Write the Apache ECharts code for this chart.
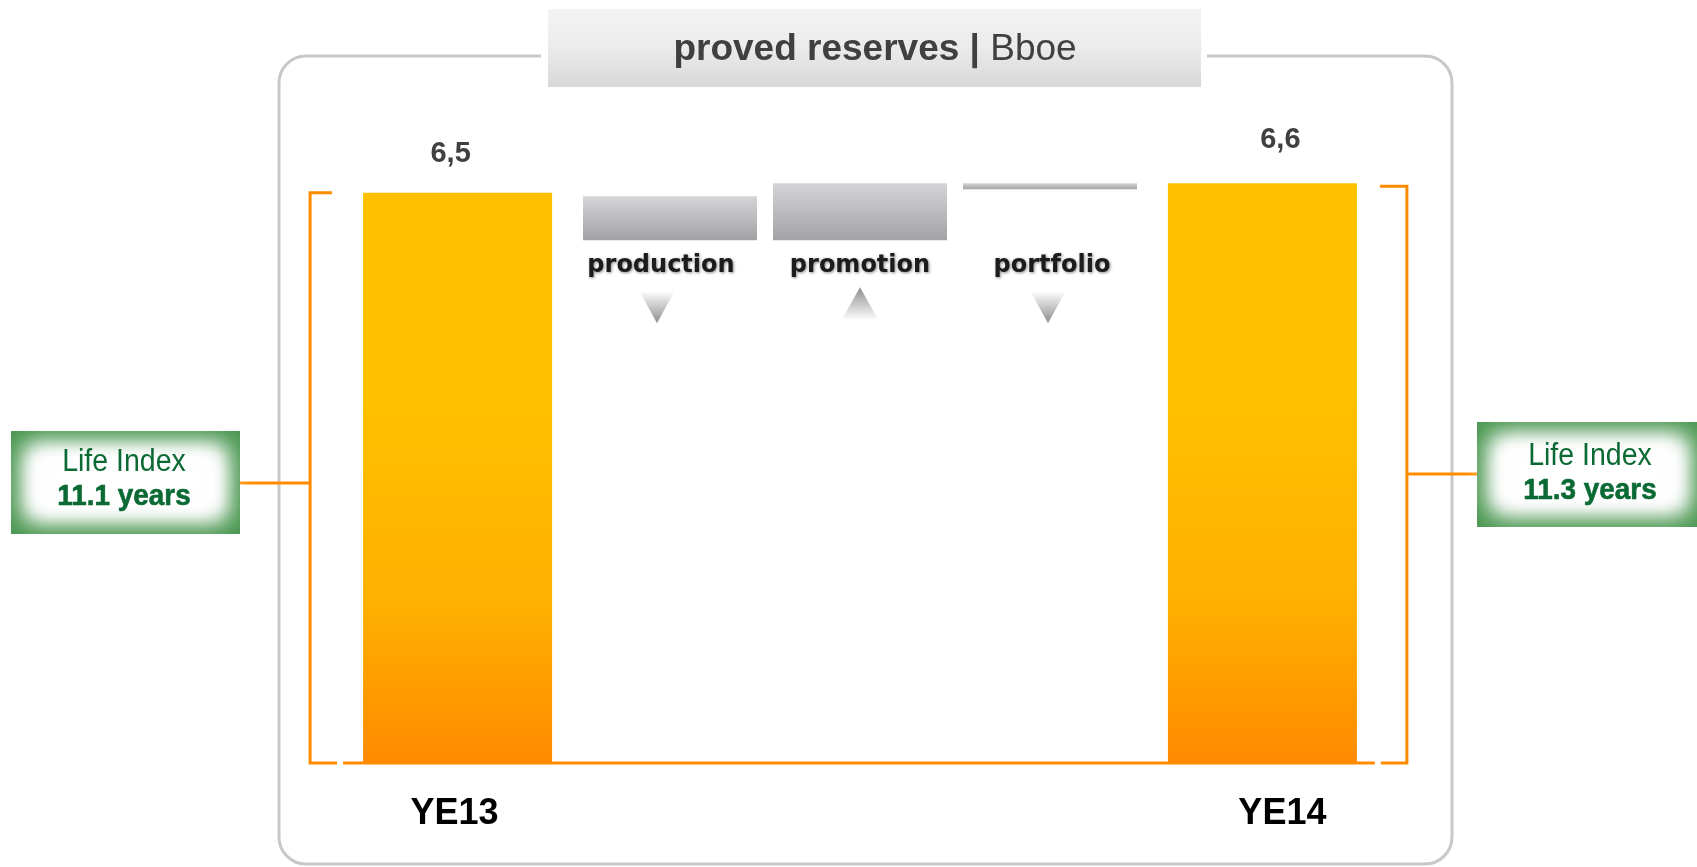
<!DOCTYPE html>
<html><head><meta charset="utf-8">
<script src="https://cdn.jsdelivr.net/npm/echarts@6/dist/echarts.min.js"></script>
<style>html,body{margin:0;padding:0;background:#fff}#c{width:1697px;height:867px}</style>
</head><body><div id="c"></div>
<script>
// ---- data ----
const categories = ['YE13', 'production', 'promotion', 'portfolio', 'YE14'];
const totalValues = [6.5, null, null, null, 6.61];
const changeCategories = ['production', 'promotion', 'portfolio'];
const changeStarts = [6.46, 5.96, 6.61];
const changeDeltas = [-0.50, 0.65, -0.07];
const lifeIndexTitle = ['Life Index', 'Life Index'];
const lifeIndexYears = ['11.1 years', '11.3 years'];
const titleBold = 'proved reserves | ';
const titleUnit = 'Bboe';

// ---- chart ----
const chart = echarts.init(document.getElementById('c'), null, { renderer: 'canvas' });
const FONT = '"Liberation Sans", Arial, sans-serif';
const floorVal = Math.min(...changeStarts.map((s, i) => Math.min(s, s + changeDeltas[i])));
const orangeGrad = () => new echarts.graphic.LinearGradient(0, 0, 0, 1, [
  { offset: 0, color: '#FFC000' }, { offset: 0.38, color: '#FFC000' },
  { offset: 0.72, color: '#FFB000' }, { offset: 1, color: '#FF8A00' }]);
const grayGrad = () => new echarts.graphic.LinearGradient(0, 0, 0, 1, [
  { offset: 0, color: '#D4D5D7' }, { offset: 1, color: '#A2A2A4' }]);
const GRAY_W = 174, GRAY_GAP = 16;
const midIndex = (categories.length - 1) / 2;

const option = {
  animation: false,
  grid: { left: 357, right: 334, top: 149, bottom: 104, containLabel: false },
  xAxis: {
    type: 'category',
    data: categories.map((c, i) => i === 4 ? { value: c, textStyle: { padding: [0, 0, 0, 40] } }
                                   : i === 0 ? { value: c, textStyle: { padding: [0, 6, 0, 0] } } : c),
    axisLine: { show: false }, axisTick: { show: false },
    axisLabel: {
      interval: 0, margin: 33, fontFamily: FONT, fontWeight: 'bold', fontSize: 36, color: '#000',
      formatter: (v, i) => totalValues[i] != null ? v : ''
    }
  },
  yAxis: { type: 'value', min: 0, max: 7, show: false, splitLine: { show: false } },
  series: [
    {
      type: 'bar', barWidth: 189, barGap: '-100%',
      itemStyle: { color: orangeGrad() },
      label: {
        show: true, position: 'top', distance: 24, fontFamily: FONT, fontWeight: 'bold',
        fontSize: 29, color: '#404040',
        formatter: p => p.value.toFixed(1).replace('.', ',')
      },
      data: totalValues.map((v, i) => v == null ? '-' :
        { value: v, label: { offset: i === 4 ? [18, -5] : [-7, 0] } })
    },
    {
      type: 'custom',
      data: changeCategories.map((c, i) => [categories.indexOf(c), changeStarts[i], changeStarts[i] + changeDeltas[i]]),
      renderItem: (params, api) => {
        const idx = api.value(0), s = api.value(1), e = api.value(2);
        const top = api.coord([idx, Math.max(s, e)]);
        const bot = api.coord([idx, Math.min(s, e)]);
        const fy = api.coord([idx, floorVal])[1];
        // change bars packed side by side around the middle category
        const mid = api.coord([midIndex, 0])[0];
        const cx = mid + (idx - midIndex) * (GRAY_W + GRAY_GAP);
        const lx = cx + (idx < midIndex ? -9 : idx > midIndex ? 2 : 0);
        const up = e > s;
        const tri = up
          ? { points: [[lx, fy + 47], [lx - 18, fy + 79], [lx + 18, fy + 79]],
              fill: new echarts.graphic.LinearGradient(0, 1, 0, 0, [{ offset: 0, color: '#FAFAFA' }, { offset: 1, color: '#8E8E8E' }]) }
          : { points: [[lx - 4 - 17, fy + 52], [lx - 4 + 17, fy + 52], [lx - 4, fy + 83]],
              fill: new echarts.graphic.LinearGradient(0, 0, 0, 1, [{ offset: 0, color: '#FAFAFA' }, { offset: 1, color: '#8E8E8E' }]) };
        return {
          type: 'group',
          children: [
            { type: 'rect', shape: { x: cx - GRAY_W / 2, y: top[1], width: GRAY_W, height: Math.max(bot[1] - top[1], 1) },
              style: { fill: grayGrad() } },
            { type: 'text', style: {
                text: categories[idx], x: lx, y: fy + 26, align: 'center', verticalAlign: 'middle',
                textAlign: 'center', textVerticalAlign: 'middle',
                font: 'bold 24px "DejaVu Sans", sans-serif', fill: '#1c1c1c',
                textShadowColor: 'rgba(0,0,0,0.45)', textShadowBlur: 3, textShadowOffsetX: 1, textShadowOffsetY: 1 } },
            { type: 'polygon', shape: { points: tri.points }, style: { fill: tri.fill } }
          ]
        };
      }
    }
  ]
};
chart.setOption(option);

// ---- decorations positioned from the axes ----
const px = (cat, v) => chart.convertToPixel({ gridIndex: 0 }, [cat, v]);
const base = px('YE13', 0)[1];
const yL = px('YE13', totalValues[0])[1];
const yR = px('YE14', totalValues[4])[1];
const xL = px('YE13', 0)[0], xR = px('YE14', 0)[0];
const bL = xL - 189 / 2 - 53, bR = xR + 189 / 2 + 50;
const ORANGE = '#FF8C00';
const OFF = 4000;

function lifeBox(x, y, w, h, t1, t2, tcx, ty1) {
  const glow = (inset, blur) => ({
    type: 'rect', z: 21, shape: { x: x + inset - OFF, y: y + inset, width: w - 2 * inset, height: h - 2 * inset },
    style: { fill: '#fff', shadowBlur: blur, shadowColor: '#fff', shadowOffsetX: OFF }
  });
  return [
    { type: 'rect', shape: { x, y, width: w, height: h }, style: { fill: '#48964F' }, z: 20 },
    glow(14, 26), glow(18, 22), glow(24, 14),
    { type: 'text', z: 22, scaleX: 0.92, originX: tcx, originY: ty1,
      style: { text: t1, x: tcx, y: ty1, textAlign: 'center', textVerticalAlign: 'middle',
        font: '31px ' + FONT, fill: '#0B6A34' } },
    { type: 'text', z: 22, scaleX: 0.93, originX: tcx, originY: ty1 + 35,
      style: { text: t2, x: tcx, y: ty1 + 35, textAlign: 'center', textVerticalAlign: 'middle',
        font: 'bold 30px ' + FONT, fill: '#0B6A34', stroke: '#0B6A34', lineWidth: 0.6 } }
  ];
}

const graphics = [
  // frame
  { type: 'rect', shape: { x: 279, y: 56, width: 1173, height: 808, r: 27 },
    style: { fill: 'none', stroke: '#C8C8C8', lineWidth: 3 }, z: 1 },
  { type: 'rect', shape: { x: 541, y: 45, width: 666, height: 22 }, style: { fill: '#fff' }, z: 2 },
  // title box
  { type: 'rect', shape: { x: 548, y: 9, width: 653, height: 78 },
    style: { fill: new echarts.graphic.LinearGradient(0, 0, 0, 1, [{ offset: 0, color: '#F3F3F3' }, { offset: 0.5, color: '#EBEBEB' }, { offset: 1, color: '#D8D8D8' }]) }, z: 3 },
  { type: 'text', z: 4, style: {
      text: '{b|' + titleBold + '}{n|' + titleUnit + '}', x: 875, y: 50,
      textAlign: 'center', textVerticalAlign: 'middle',
      rich: { b: { fontFamily: FONT, fontWeight: 'bold', fontSize: 37, fill: '#404040', color: '#404040' },
              n: { fontFamily: FONT, fontSize: 37, fill: '#404040', color: '#404040' } } } },
  // left bracket
  { type: 'polyline', z: 5, shape: { points: [[bL + 22, yL], [bL, yL], [bL, base], [bL + 27, base]] },
    style: { stroke: ORANGE, lineWidth: 3, fill: 'none' } },
  // baseline
  { type: 'line', z: 5, shape: { x1: bL + 33, y1: base, x2: bR - 32, y2: base }, style: { stroke: ORANGE, lineWidth: 3 } },
  // right bracket
  { type: 'polyline', z: 5, shape: { points: [[bR - 27, yR + 3], [bR, yR + 3], [bR, base], [bR - 26, base]] },
    style: { stroke: ORANGE, lineWidth: 3, fill: 'none' } },
  // connectors
  { type: 'line', z: 5, shape: { x1: 240, y1: 483, x2: bL, y2: 483 }, style: { stroke: ORANGE, lineWidth: 3 } },
  { type: 'line', z: 5, shape: { x1: bR, y1: 474, x2: 1477, y2: 474 }, style: { stroke: ORANGE, lineWidth: 3 } },
  ...lifeBox(11, 431, 229, 103, lifeIndexTitle[0], lifeIndexYears[0], 124, 462),
  ...lifeBox(1477, 422, 224, 105, lifeIndexTitle[1], lifeIndexYears[1], 1590, 456)
];
chart.setOption({ graphic: { elements: graphics } });
</script>
</body></html>
